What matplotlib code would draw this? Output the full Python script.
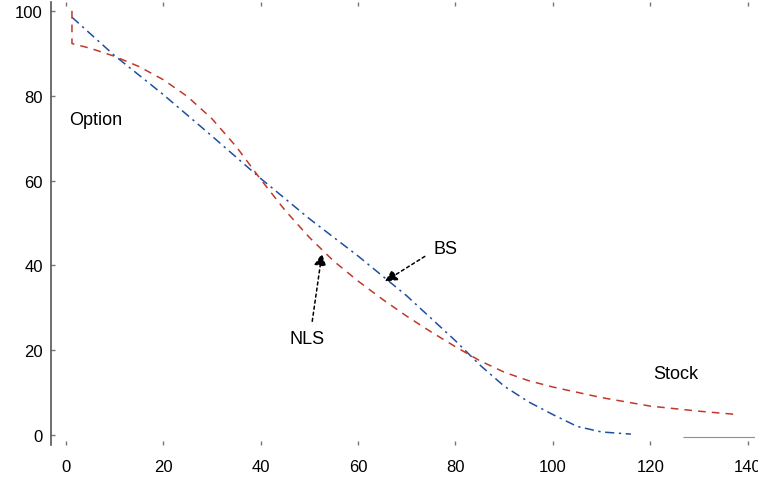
import matplotlib
matplotlib.use("Agg")
import matplotlib.pyplot as plt

plt.rcParams['font.family'] = ['Liberation Sans', 'DejaVu Sans']

# Black-Scholes option price against stock price
bs_x = [1.3, 10, 20, 30, 40, 50, 60, 70, 80, 85, 90, 95, 100, 105, 110, 116]
bs_y = [98.5, 89.5, 80.3, 70.5, 60.5, 51.0, 42.2, 32.8, 22.2, 16.5, 11.5, 7.8, 4.8, 2.0, 0.7, 0.2]

# Nonlinear least squares fit
nls_x = [1.3, 1.3, 5, 10, 15, 20, 25, 30, 35, 40, 45, 50, 55, 60, 65, 70, 75, 80,
         85, 90, 95, 100, 110, 120, 130, 138]
nls_y = [100.0, 92.3, 91.2, 89.3, 86.9, 83.8, 79.8, 74.6, 68.0, 60.3, 53.0, 46.6,
         41.0, 36.3, 32.0, 28.0, 24.3, 20.8, 17.5, 14.8, 12.8, 11.3, 8.8, 6.8, 5.6, 4.8]

x_ticks = [0, 20, 40, 60, 80, 100, 120, 140]
y_ticks = [0, 20, 40, 60, 80, 100]

fig = plt.figure(figsize=(7.58, 4.85), dpi=100)
ax = fig.add_axes([0.0673, 0.081, 0.929, 0.912])

ax.plot(bs_x, bs_y, color='#1f4fa0', lw=1.1, dashes=(6, 3, 1.5, 3))
ax.plot(nls_x, nls_y, color='#c0392b', lw=1.1, dashes=(5, 4))
ax.hlines(-0.5, 126.7, 142, color='#8a8f9a', lw=0.8)

ax.set_xlim(-3, 141.5)
ax.set_ylim(-2.3, 102)
ax.set_xticks(x_ticks)
ax.set_yticks(y_ticks)

for side in ('top', 'right', 'bottom'):
    ax.spines[side].set_visible(False)
ax.spines['left'].set_color('#555555')
ax.spines['left'].set_linewidth(1.2)

ax.tick_params(axis='x', direction='in', length=3, width=1, color='#777777',
               top=True, pad=10, labelsize=12)
ax.tick_params(axis='y', direction='in', length=3, width=1, color='#777777',
               pad=6, labelsize=12)

ax.text(0.7, 74.5, 'Option', fontsize=13, va='center', ha='left')
ax.text(75.4, 44, 'BS', fontsize=13, va='center', ha='left')
ax.text(49.5, 22.8, 'NLS', fontsize=13, va='center', ha='center')
ax.text(120.5, 14.6, 'Stock', fontsize=13, va='center', ha='left')

arrow = dict(arrowstyle='-|>', color='black', lw=1.1, linestyle=(0, (2, 2)),
             mutation_scale=18, shrinkA=0, shrinkB=0)
ax.annotate('', xy=(52.6, 42.8), xytext=(50.6, 26.8), arrowprops=arrow)
ax.annotate('', xy=(65.5, 36.2), xytext=(73.7, 42.1), arrowprops=arrow)

fig.savefig('out.png', dpi=100)
